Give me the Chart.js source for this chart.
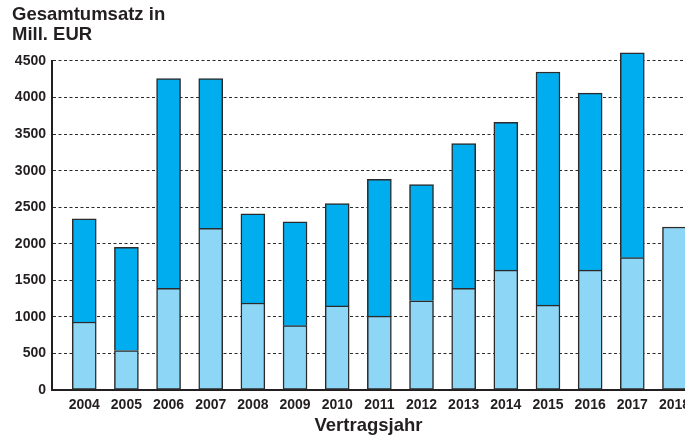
<!DOCTYPE html>
<html lang="de">
<head>
<meta charset="utf-8">
<title>Gesamtumsatz nach Vertragsjahr</title>
<script src="https://cdn.jsdelivr.net/npm/chart.js@4.4.1/dist/chart.umd.min.js"></script>
<style>
    html, body { margin: 0; padding: 0; background: #fff; overflow: hidden; }
    #umsatzChart { display: block; }
</style>
</head>
<body>
<canvas id="umsatzChart" width="685" height="438"></canvas>
<script>
// Vertragsjahre and turnover in Mill. EUR
const years = [2004, 2005, 2006, 2007, 2008, 2009, 2010, 2011, 2012, 2013, 2014, 2015, 2016, 2017, 2018];
const lowerPart = [930, 540, 1390, 2210, 1190, 880, 1150, 1010, 1220, 1390, 1640, 1160, 1640, 1810, 2230];
const totals = [2340, 1950, 4260, 4260, 2410, 2300, 2550, 2880, 2810, 3370, 3660, 4350, 4060, 4610, null];
const yTicks = [0, 500, 1000, 1500, 2000, 2500, 3000, 3500, 4000, 4500];

const fontFamily = '"Liberation Sans", Arial, Helvetica, sans-serif';
const inkColor = '#231f20';

// upper segment = total minus lower segment (2018 has only the lower part)
const upperPart = totals.map((t, i) => t === null ? null : t - lowerPart[i]);

const lowerData = years.map((y, i) => ({ x: y, y: lowerPart[i] }));
const upperData = years.map((y, i) => ({ x: y, y: upperPart[i] }));

const barStyle = {
    borderColor: '#2b2b2b',
    borderSkipped: false,
    barThickness: 24,
    clip: false
};

const ctx = document.getElementById('umsatzChart').getContext('2d');

new Chart(ctx, {
    type: 'bar',
    data: {
        datasets: [
            Object.assign({
                label: 'Anteil 1',
                data: lowerData,
                backgroundColor: '#8ed6f6',
                borderWidth: 1.5
            }, barStyle),
            // no bottom edge on the upper part, the lower bar already draws the seam
            Object.assign({
                label: 'Anteil 2',
                data: upperData,
                backgroundColor: '#00adee',
                borderWidth: { top: 1.5, left: 1.5, right: 1.5, bottom: 0 }
            }, barStyle)
        ]
    },
    options: {
        responsive: false,
        animation: false,
        layout: {
            padding: { left: 12, right: 0, top: 0, bottom: 0 }
        },
        plugins: {
            legend: { display: false },
            tooltip: { enabled: false },
            title: {
                display: true,
                text: ['Gesamtumsatz in', 'Mill. EUR'],
                align: 'start',
                color: inkColor,
                font: { family: fontFamily, size: 18.5, weight: 'bold', lineHeight: 1.07 },
                padding: { top: 5, bottom: 16.4 }
            }
        },
        scales: {
            x: {
                type: 'linear',
                stacked: true,
                offset: false,
                min: 2003.235,
                max: 2018.25,
                afterBuildTicks: function(scale) {
                    scale.ticks = years.map(v => ({ value: v }));
                },
                afterFit: function(scale) {
                    scale.paddingLeft = 0;
                    scale.paddingRight = 0;
                    scale.height = 48;
                },
                ticks: {
                    autoSkip: false,
                    maxRotation: 0,
                    padding: 7,
                    color: inkColor,
                    font: { family: fontFamily, size: 14, weight: 'bold' },
                    callback: function(value) {
                        return String(value);
                    }
                },
                grid: { display: false, drawTicks: false },
                border: { display: true, color: inkColor, width: 2 },
                title: {
                    display: true,
                    text: 'Vertragsjahr',
                    color: inkColor,
                    font: { family: fontFamily, size: 18.5, weight: 'bold' },
                    padding: { top: 0, bottom: 1 }
                }
            },
            y: {
                stacked: true,
                min: 0,
                max: 4500,
                afterBuildTicks: function(scale) {
                    scale.ticks = yTicks.map(v => ({ value: v }));
                },
                afterFit: function(scale) {
                    scale.width = 40;
                },
                ticks: {
                    padding: 6,
                    color: inkColor,
                    font: { family: fontFamily, size: 14, weight: 'bold' },
                    callback: function(value) {
                        return String(value);
                    }
                },
                grid: {
                    drawTicks: false,
                    color: '#2b2b2b',
                    lineWidth: 1
                },
                // in v4 the dash pattern of the grid lines lives on the border options
                border: { display: true, color: inkColor, width: 2, dash: [3, 2.5] }
            }
        }
    }
});
</script>
</body>
</html>
